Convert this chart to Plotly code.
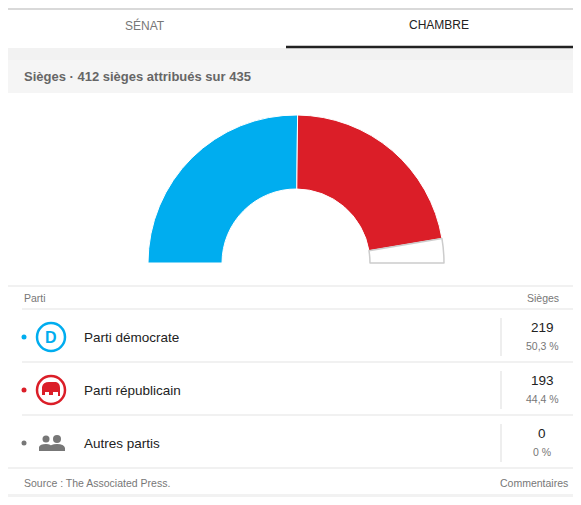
import plotly.graph_objects as go

W, H = 581, 505
OFF = 8  # décalage de la page dans la fenêtre
FW, FH = W - OFF, H - OFF

# Données
partis = ["Parti démocrate", "Parti républicain", "Autres partis"]
sieges = [219, 193, 0]
pourcentages = ["50,3 %", "44,4 %", "0 %"]
couleurs = ["#00adef", "#db1e28", "#777777"]
total = 435
attribues = 412
non_attribues = total - attribues


def px(x):
    return (x - OFF) / FW


def py(y):
    return 1 - (y - OFF) / FH


fig = go.Figure()

# Hémicycle : demi-anneau + moitié basse invisible
fig.add_trace(go.Pie(
    values=[sieges[0], sieges[1], non_attribues, total],
    marker=dict(colors=[couleurs[0], couleurs[1], "white", "rgba(0,0,0,0)"],
                line=dict(color=["white", "white", "#cccccc", "rgba(0,0,0,0)"], width=[1, 1, 1.5, 0])),
    hole=0.5, rotation=-90, direction="clockwise", sort=False,
    textinfo="none", hoverinfo="skip", showlegend=False,
    domain=dict(x=[px(148), px(444)], y=[py(411), py(115)]),
))

shapes = []
ann = []


def rect(x0, y0, x1, y1, color):
    shapes.append(dict(type="rect", xref="paper", yref="paper", x0=px(x0), x1=px(x1),
                       y0=py(y1), y1=py(y0), fillcolor=color, line=dict(width=0), layer="below"))


def hline(x0, x1, y, color="#e3e3e3", w=1):
    shapes.append(dict(type="line", xref="paper", yref="paper", x0=px(x0), x1=px(x1),
                       y0=py(y), y1=py(y), line=dict(color=color, width=w), layer="below"))


def vline(x, y0, y1, color="#dddddd"):
    shapes.append(dict(type="line", xref="paper", yref="paper", x0=px(x), x1=px(x),
                       y0=py(y0), y1=py(y1), line=dict(color=color, width=1), layer="below"))


def text(x, y, t, size=12, color="#333333", anchor="left"):
    ann.append(dict(xref="paper", yref="paper", x=px(x), y=py(y), text=t, showarrow=False,
                    xanchor=anchor, yanchor="middle", font=dict(size=size, color=color)))


# Cadre
rect(0, 48, 581, 497, "#f2f2f2")
rect(8, 60, 581, 494, "white")
rect(8, 60, 581, 93, "#f5f5f5")
hline(0, 581, 9, "#cccccc", 1.5)
hline(286, 581, 47, "#222222", 2.5)

# Onglets
text(145, 25, "SÉNAT", 12, "#777777", "center")
text(439, 25, "CHAMBRE", 12, "#222222", "center")
text(22, 76, "<b>Sièges · 412 sièges attribués sur 435</b>", 13, "#666666")

# Tableau
rect(8, 286, 581, 494, "white")
hline(8, 581, 286)
for y in [309, 362, 415]:
    hline(22, 581, y)
hline(8, 581, 468)
text(22, 298, "Parti", 10.5, "#777777")
text(561, 298, "Sièges", 10.5, "#777777", "right")

rows_y = [337, 390, 443]
for i, y in enumerate(rows_y):
    shapes.append(dict(type="circle", xref="paper", yref="paper", x0=px(21.5), x1=px(26.5),
                       y0=py(y + 2.5), y1=py(y - 2.5), fillcolor=couleurs[i], line=dict(width=0)))
    text(82, y, partis[i], 13.5, "#222222")
    vline(501, y - 19, y + 19)
    text(542, y - 10, str(sieges[i]), 13.5, "#222222", "center")
    text(542, y + 9, pourcentages[i], 10.5, "#777777", "center")

# Icônes démocrate / républicain
for i in range(2):
    y = rows_y[i]
    shapes.append(dict(type="circle", xref="paper", yref="paper", x0=px(37), x1=px(65),
                       y0=py(y + 14), y1=py(y - 14), fillcolor="white",
                       line=dict(color=couleurs[i], width=2.5)))
text(51, rows_y[0], "<b>D</b>", 16, couleurs[0], "center")
# éléphant stylisé
e = rows_y[1]
shapes.append(dict(type="path", xref="paper", yref="paper", fillcolor=couleurs[1], line=dict(width=0),
                   path=f"M {px(42)},{py(e+5)} L {px(42)},{py(e-3)} Q {px(43)},{py(e-8)} {px(49)},{py(e-8)} "
                        f"L {px(56)},{py(e-8)} Q {px(60)},{py(e-7)} {px(60)},{py(e-2)} L {px(60)},{py(e+6)} "
                        f"L {px(58)},{py(e+6)} L {px(58)},{py(e+2)} L {px(53)},{py(e+2)} L {px(53)},{py(e+5)} "
                        f"L {px(49)},{py(e+5)} L {px(49)},{py(e+2)} L {px(45)},{py(e+2)} L {px(45)},{py(e+5)} Z"))
# autres partis
o = rows_y[2]
for cx, r in [(46, 3.5), (57, 4)]:
    shapes.append(dict(type="circle", xref="paper", yref="paper", x0=px(cx - r), x1=px(cx + r),
                       y0=py(o - 4 + r), y1=py(o - 4 - r), fillcolor="#777777", line=dict(width=0)))
shapes.append(dict(type="path", xref="paper", yref="paper", fillcolor="#777777", line=dict(width=0),
                   path=f"M {px(39)},{py(o+8)} L {px(39)},{py(o+4)} Q {px(40)},{py(o+1)} {px(46)},{py(o+1)} "
                        f"Q {px(51)},{py(o+1)} {px(52)},{py(o+4)} L {px(52)},{py(o+8)} Z"))
shapes.append(dict(type="path", xref="paper", yref="paper", fillcolor="#777777", line=dict(width=0),
                   path=f"M {px(49)},{py(o+8)} L {px(49)},{py(o+5)} Q {px(50)},{py(o+1)} {px(57)},{py(o+1)} "
                        f"Q {px(64)},{py(o+1)} {px(65)},{py(o+5)} L {px(65)},{py(o+8)} Z"))

# Pied
text(22, 483, "Source : The Associated Press.", 10.5, "#777777")
text(570, 483, "Commentaires", 10.5, "#777777", "right")

fig.update_layout(width=FW, height=FH, margin=dict(l=0, r=0, t=0, b=0),
                  paper_bgcolor="white", plot_bgcolor="white",
                  font=dict(family="Liberation Sans, Arial, sans-serif"),
                  shapes=shapes, annotations=ann,
                  xaxis=dict(visible=False), yaxis=dict(visible=False))
fig.write_html("out.html")
